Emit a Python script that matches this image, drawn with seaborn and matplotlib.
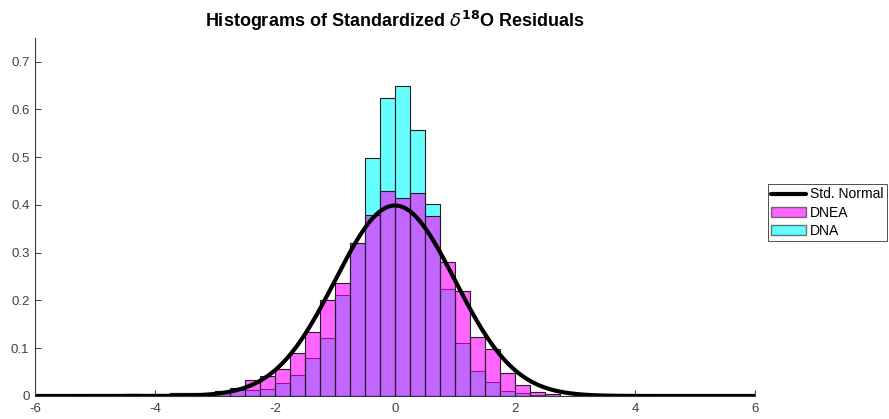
import numpy as np
import pandas as pd
import matplotlib
matplotlib.use('Agg')
import matplotlib.pyplot as plt
from matplotlib.patches import Patch
from matplotlib.lines import Line2D
import seaborn as sns

# bin layout (width 0.25) and pdf-normalised heights
bin_lo, bin_hi, bin_w = -4.5, 2.75, 0.25
dnea = [0.005, 0.0, 0.0, 0.007, 0.007, 0.002, 0.0105, 0.017, 0.0335, 0.041,
        0.057, 0.091, 0.134, 0.200, 0.236, 0.320, 0.380, 0.429, 0.415, 0.426,
        0.3775, 0.281, 0.220, 0.1235, 0.0977, 0.0474, 0.023, 0.009, 0.004]
dna = [0.005, 0.0, 0.0, 0.007, 0.007, 0.002, 0.0105, 0.0126, 0.0126, 0.014,
       0.028, 0.045, 0.080, 0.121, 0.211, 0.321, 0.4975, 0.623, 0.650, 0.557,
       0.4026, 0.225, 0.112, 0.052, 0.0286, 0.0105, 0.0056, 0.002, 0.001]
centers = bin_lo + bin_w / 2 + bin_w * np.arange(len(dna))

df = pd.DataFrame({'center': centers, 'DNEA': dnea, 'DNA': dna})

sns.set_style('white')
plt.rcParams['font.family'] = ['Liberation Sans', 'DejaVu Sans']
plt.rcParams['axes.unicode_minus'] = False

fig = plt.figure(figsize=(8.89, 4.19), dpi=100)
ax = fig.add_axes([0.0394, 0.0549, 0.8099, 0.8549])

# DNA first, DNEA on top (gives the purple overlap)
sns.histplot(data=df, x='center', weights='DNA', binwidth=bin_w,
             binrange=(bin_lo, bin_hi), stat='count',
             color='#00FFFF', alpha=0.6, edgecolor='#202020', linewidth=0.8, ax=ax)
sns.histplot(data=df, x='center', weights='DNEA', binwidth=bin_w,
             binrange=(bin_lo, bin_hi), stat='count',
             color='#FF00FF', alpha=0.6, edgecolor='#202020', linewidth=0.8, ax=ax)

xs = np.linspace(-6, 6, 600)
ax.plot(xs, np.exp(-xs**2 / 2) / np.sqrt(2 * np.pi), color='black', lw=3)

ax.set_xlim(-6, 6)
ax.set_ylim(0, 0.75)
ax.set_xticks([-6, -4, -2, 0, 2, 4, 6])
ax.set_yticks([0, 0.1, 0.2, 0.3, 0.4, 0.5, 0.6, 0.7])
ax.set_yticklabels(['0', '0.1', '0.2', '0.3', '0.4', '0.5', '0.6', '0.7'])
ax.set_xlabel('')
ax.set_ylabel('')
ax.tick_params(direction='in', length=4, width=0.7, labelsize=9.5,
               colors='#3a3a3a', labelcolor='#404040', bottom=True, left=True)
ax.tick_params(axis='x', pad=5)
ax.tick_params(axis='y', pad=4)
for s in ['top', 'right']:
    ax.spines[s].set_visible(False)
for s in ['left', 'bottom']:
    ax.spines[s].set_color('#3a3a3a')
    ax.spines[s].set_linewidth(0.8)

ax.set_title(r'Histograms of Standardized $\delta^{\mathbf{18}}$O Residuals',
             fontsize=13, fontweight='bold', color='black', pad=8)

handles = [Line2D([0], [0], color='black', lw=3),
           Patch(facecolor='#FF00FF', alpha=0.6, edgecolor='#202020'),
           Patch(facecolor='#00FFFF', alpha=0.6, edgecolor='#202020')]
leg = fig.legend(handles, ['Std. Normal', 'DNEA', 'DNA'], loc='upper left',
                 bbox_to_anchor=(768 / 889, 1 - 184 / 419), fontsize=10,
                 frameon=True, fancybox=False, edgecolor='black',
                 borderpad=0.25, labelspacing=0.3, handlelength=2.5,
                 handleheight=0.7, handletextpad=0.25, borderaxespad=0)
leg.get_frame().set_linewidth(0.6)
for t in leg.get_texts():
    t.set_color('black')

fig.savefig('out.png', dpi=100)
